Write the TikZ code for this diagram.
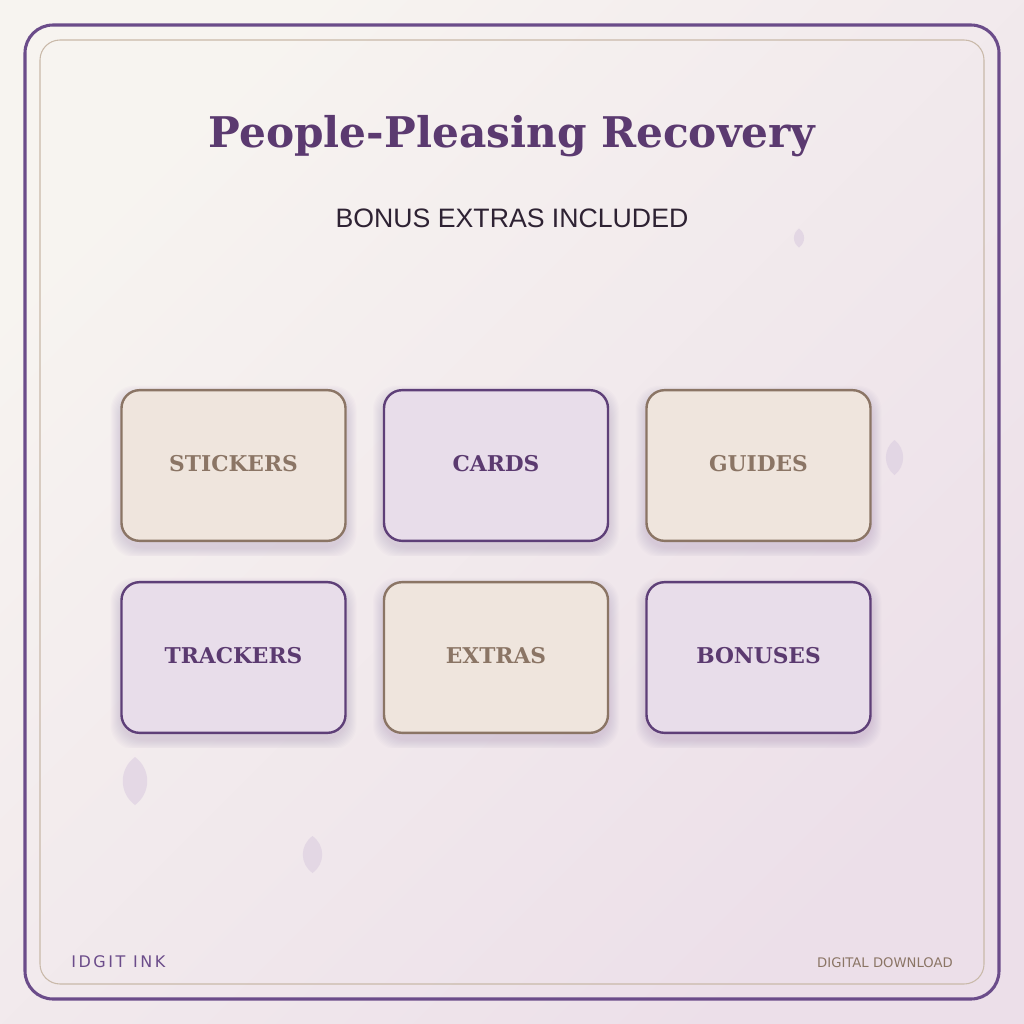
\documentclass[tikz,border=0pt]{standalone}
\usepackage{fontspec}
\newfontfamily\dserif{DejaVu Serif}
\newfontfamily\asans{Liberation Sans}
\newfontfamily\dsans{DejaVu Sans}
\newfontfamily\dsansls[LetterSpace=16]{DejaVu Sans}
\definecolor{bgA}{HTML}{F7F4F0}
\definecolor{bgB}{HTML}{ECDFE9}
\definecolor{plum}{HTML}{5B3A70}
\definecolor{plumline}{HTML}{6B4C8A}
\definecolor{tanline}{HTML}{C9B9A9}
\definecolor{tanfill}{HTML}{EFE5DD}
\definecolor{tanedge}{HTML}{8B7565}
\definecolor{lilfill}{HTML}{E8DDEA}
\definecolor{liledge}{HTML}{5E3F78}
\definecolor{subtxt}{HTML}{2E2233}
\definecolor{leafc}{HTML}{D9CADF}
\definecolor{shadowc}{HTML}{8A6A9A}
\tikzset{
  cardbase/.style={minimum width=168pt, minimum height=113pt, rounded corners=13.5pt, line width=1.8pt, font=\dserif\bfseries\fontsize{16.3pt}{18pt}\selectfont, inner sep=0pt, text depth=3.75pt},
  tancard/.style={cardbase, draw=tanedge, fill=tanfill, text=tanedge},
  lilcard/.style={cardbase, draw=liledge, fill=lilfill, text=plum},
  leaf/.style={fill=leafc, opacity=0.55}
}
\begin{document}
\begin{tikzpicture}[x=0.75pt,y=-0.75pt]
\useasboundingbox (0,0) rectangle (1024,1024);
\shade[top color=bgA, bottom color=bgB, shading angle=45] (0,0) rectangle (1024,1024);
% borders
\draw[plumline, line width=2.3pt, rounded corners=21pt] (25,25) rectangle (999,999);
\draw[tanline, line width=0.8pt, rounded corners=15pt] (40,40) rectangle (984,984);
% leaves
\foreach \lx/\ly/\lw/\lh in {799/238/10/19, 894.5/457.5/17/35, 135/781/24/48, 312.5/854.5/19/37}{
  \fill[leaf] (\lx,\ly-\lh/2) .. controls (\lx+0.68*\lw,\ly-\lh/4) and (\lx+0.68*\lw,\ly+\lh/4) .. (\lx,\ly+\lh/2)
     .. controls (\lx-0.68*\lw,\ly+\lh/4) and (\lx-0.68*\lw,\ly-\lh/4) .. cycle;
}
% title
\node[font=\dserif\bfseries\fontsize{31.7pt}{34pt}\selectfont, text=plum, anchor=base] (title) at (512,147) {People-Pleasing Recovery};
\node[font=\asans\fontsize{20pt}{24pt}\selectfont, text=subtxt, anchor=base] (sub) at (512,227) {BONUS EXTRAS INCLUDED};
% shadows
\foreach \cx/\cy in {233.5/465.5, 496/465.5, 758.5/465.5, 233.5/657.5, 496/657.5, 758.5/657.5}{
  \begin{scope}
    \clip (\cx-126,\cy-84) rectangle (\cx+126,\cy+90);
    \foreach \i in {1,...,10}{
      \fill[shadowc, opacity=0.022, rounded corners=18pt] (\cx-113-\i,\cy-70-\i) rectangle (\cx+113+\i,\cy+82+\i);
    }
  \end{scope}
}
% cards
\node[tancard] (stickers) at (233.5,465.5) {STICKERS};
\node[lilcard] (cards) at (496,465.5) {CARDS};
\node[tancard] (guides) at (758.5,465.5) {GUIDES};
\node[lilcard] (trackers) at (233.5,657.5) {TRACKERS};
\node[tancard] (extras) at (496,657.5) {EXTRAS};
\node[lilcard] (bonuses) at (758.5,657.5) {BONUSES};
% footer
\node[font=\dsansls\fontsize{12pt}{14pt}\selectfont, text=plumline, anchor=base west, inner sep=0pt] (brand) at (71,967) {IDGIT INK};
\node[font=\dsans\fontsize{9.9pt}{12pt}\selectfont, text=tanedge, anchor=base east, inner sep=0pt] (dl) at (953,967) {DIGITAL DOWNLOAD};
\end{tikzpicture}
\end{document}
